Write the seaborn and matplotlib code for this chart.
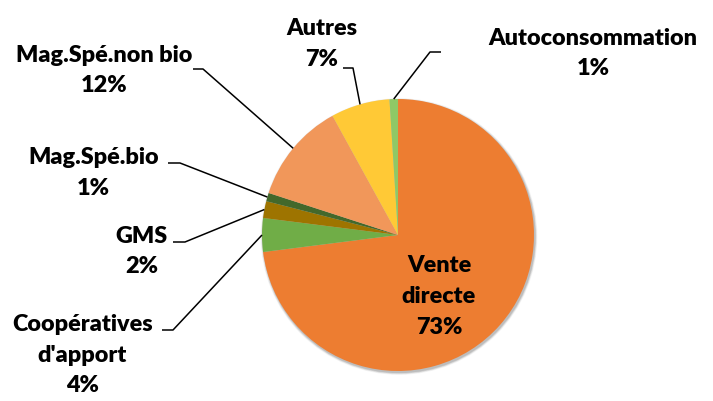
import numpy as np
import matplotlib
matplotlib.use("Agg")
import matplotlib.pyplot as plt
import seaborn as sns

# Répartition des circuits de commercialisation (%)
categories = ["Vente directe", "Coopératives d'apport", "GMS", "Mag.Spé.bio",
              "Mag.Spé.non bio", "Autres", "Autoconsommation"]
label_texts = ["Vente\ndirecte", "Coopératives\nd'apport", "GMS", "Mag.Spé.bio",
               "Mag.Spé.non bio", "Autres", "Autoconsommation"]
values = [73, 4, 2, 1, 12, 7, 1]
colors = ["#ED7D31", "#70AD47", "#9E7400", "#43682B", "#F1975A", "#FFC936", "#8FC866"]

sns.set_theme(style="white")
plt.rcParams["font.family"] = ["Lato", "DejaVu Sans"]

W, H = 713, 401
fig = plt.figure(figsize=(W / 100, H / 100), dpi=100)
ax = fig.add_axes([0, 0, 1, 1])

cx, cy, R = 398, H - 235, 136

# soft drop shadow under the pie
for k, a in zip(range(4, 0, -1), [0.04, 0.06, 0.08, 0.10]):
    ax.add_patch(plt.Circle((cx + 1, cy - 1.5), R + k * 0.6, color="black",
                            alpha=a, lw=0, zorder=0))

wedges, _ = ax.pie(values, colors=colors, startangle=90, counterclock=False,
                   center=(cx, cy), radius=R,
                   wedgeprops=dict(linewidth=0, zorder=1))

ax.set_xlim(0, W)
ax.set_ylim(0, H)
ax.set_aspect("equal")
ax.axis("off")

fs = 16.8
lsp = 1.58

def edge_point(w):
    ang = np.deg2rad((w.theta1 + w.theta2) / 2)
    return cx + R * np.cos(ang), cy + R * np.sin(ang)

# label centre (px from top-left) and leader elbow: (text end x, elbow x, y)
layout = {
    "Vente directe": ((439, 296.5), None),
    "Coopératives d'apport": ((82.5, 355), (162, 173, 330)),
    "GMS": ((141.5, 251.5), (173, 185, 242)),
    "Mag.Spé.bio": ((93.5, 173), (168, 180, 163)),
    "Mag.Spé.non bio": ((104.5, 70.5), (193, 203, 69)),
    "Autres": ((322, 44), (343, 353, 68)),
    "Autoconsommation": ((593, 53.5), (441, 430, 52)),
}

for cat, txt, val, w in zip(categories, label_texts, values, wedges):
    (tx, ty), leader = layout[cat]
    ax.text(tx, H - ty, f"{txt}\n{val}%", ha="center", va="center",
            fontsize=fs, fontweight="heavy", color="black",
            linespacing=lsp, zorder=5)
    if leader is not None:
        x0, x1, ly = leader
        ex, ey = edge_point(w)
        ax.plot([x0, x1, ex], [H - ly, H - ly, ey], color="black", lw=1.1,
                solid_capstyle="butt", zorder=4)

fig.savefig("out.png", dpi=100)
